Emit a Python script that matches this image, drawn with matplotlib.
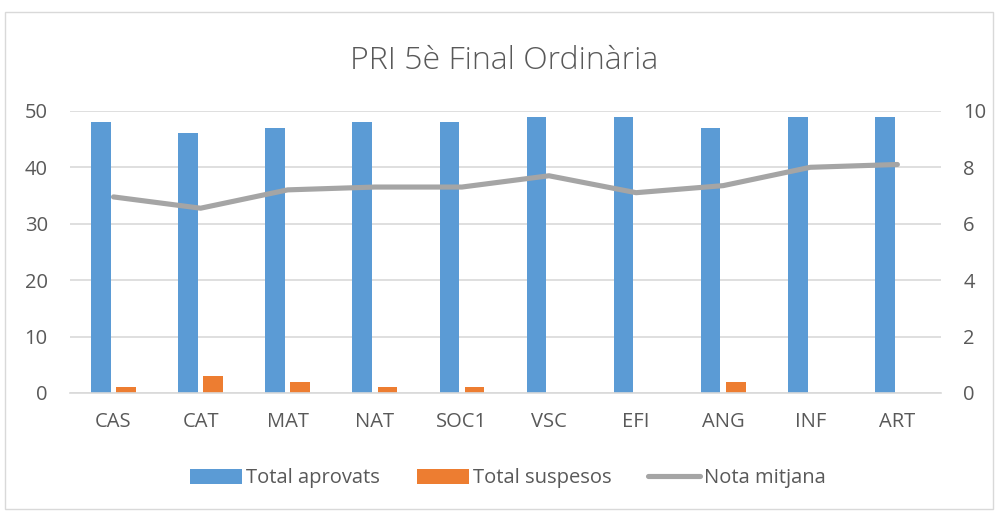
import matplotlib
matplotlib.use("Agg")
import matplotlib.pyplot as plt
import numpy as np
from matplotlib.patches import Rectangle

categories = ["CAS", "CAT", "MAT", "NAT", "SOC1", "VSC", "EFI", "ANG", "INF", "ART"]
aprovats = [48, 46, 47, 48, 48, 49, 49, 47, 49, 49]
suspesos = [1, 3, 2, 1, 1, 0, 0, 2, 0, 0]
nota_mitjana = [6.95, 6.55, 7.2, 7.3, 7.3, 7.7, 7.1, 7.35, 8.0, 8.1]

plt.rcParams['font.family'] = ['Open Sans', 'DejaVu Sans']
txt = '#595959'
grid = '#d9d9d9'

fig = plt.figure(figsize=(9.98, 5.11), dpi=100)
fig.patches.append(Rectangle((0.005, 0.004), 0.99, 0.972, transform=fig.transFigure,
                             fill=False, edgecolor='#d9d9d9', linewidth=1.0))
ax = fig.add_axes([0.0701, 0.231, 0.8727, 0.552])
ax2 = ax.twinx()

x = np.arange(len(categories))
w = 0.225
off = 0.144
b1 = ax.bar(x - off, aprovats, w, color='#5b9bd5', label='Total aprovats', zorder=2)
b2 = ax.bar(x + off, suspesos, w, color='#ed7d31', label='Total suspesos', zorder=2)
l1, = ax2.plot(x, nota_mitjana, color='#a5a5a5', linewidth=3.7, label='Nota mitjana',
               solid_capstyle='round', zorder=3)

ax.set_xlim(-0.5, len(categories) - 0.5)
ax.set_ylim(0, 50)
ax2.set_ylim(0, 10)
ax.set_yticks(range(0, 51, 10))
ax2.set_yticks(range(0, 11, 2))
ax.yaxis.grid(True, color=grid, linewidth=1.2, zorder=0)
ax.set_axisbelow(True)
for a in (ax, ax2):
    for s in a.spines.values():
        s.set_visible(False)
    a.tick_params(length=0, labelsize=14.5, colors=txt)
ax.spines['bottom'].set_visible(True)
ax.spines['bottom'].set_color(grid)
ax.spines['bottom'].set_linewidth(1.2)
ax.set_xticks(x)
ax.set_xticklabels(categories)
ax.tick_params(axis='x', pad=14)
ax.tick_params(axis='y', pad=16)
ax2.tick_params(axis='y', pad=16)

fig.text(0.505, 0.881, 'PRI 5è Final Ordinària', ha='center', va='center', fontsize=23,
         color=txt, fontweight='light')

fig.legend(handles=[b1, b2, l1], loc='center', bbox_to_anchor=(0.509, 0.064), ncol=3,
           frameon=False, fontsize=14.5, labelcolor=txt, handlelength=2.6, handletextpad=0.2,
           columnspacing=1.8, handleheight=0.8)

fig.savefig('out.png', dpi=100)
